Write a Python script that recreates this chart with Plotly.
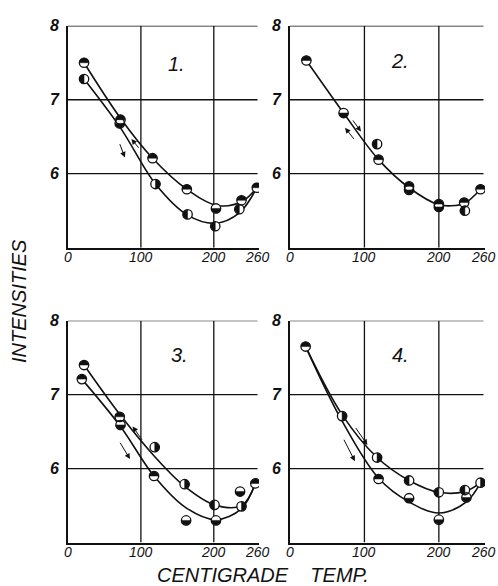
import numpy as np
import plotly.graph_objects as go

# ---------------- data ----------------
x_ticks = [0, 100, 200, 260]
x_tick_text = ["0", "100", "200", "260"]
y_ticks = [6, 7, 8]
y_tick_text = ["6", "7", "8"]
grid_x = [100, 200]
grid_y = [6, 7, 8]
panel_labels = ["1.", "2.", "3.", "4."]

# marker fill codes: T = upper half dark, B = lower half dark, L = left half dark, R = right half dark
# Panel 1
p1_x = [22, 22, 72, 71, 116, 120, 163, 164, 203, 202, 238, 235, 259]
p1_y = [7.50, 7.28, 6.73, 6.68, 6.21, 5.86, 5.79, 5.45, 5.53, 5.29, 5.64, 5.52, 5.81]
p1_m = ["T", "L", "T", "B", "T", "R", "T", "L", "B", "L", "T", "L", "T"]
p1_up_x = [22, 72, 116, 163, 205, 238, 259]
p1_up_y = [7.50, 6.75, 6.21, 5.79, 5.57, 5.62, 5.81]
p1_lo_x = [22, 72, 120, 164, 202, 235, 259]
p1_lo_y = [7.28, 6.62, 5.86, 5.44, 5.33, 5.47, 5.81]
p1_arrows = [(98.6, 6.33, 87, 6.47), (70.3, 6.42, 78, 6.22)]

# Panel 2
p2_x = [22, 72, 117, 119, 160, 160, 200, 200, 234, 235, 256]
p2_y = [7.53, 6.82, 6.40, 6.19, 5.83, 5.78, 5.59, 5.55, 5.61, 5.50, 5.79]
p2_m = ["T", "B", "L", "T", "T", "B", "T", "B", "T", "L", "T"]
p2_up_x = [22, 72, 119, 160, 200, 222, 235, 256]
p2_up_y = [7.53, 6.82, 6.19, 5.81, 5.58, 5.57, 5.60, 5.79]
p2_lo_x = []
p2_lo_y = []
p2_arrows = [(83, 6.74, 95.4, 6.57), (87.4, 6.45, 74, 6.62)]

# Panel 3
p3_x = [22, 19, 71, 72, 119, 118, 160, 162, 201, 203, 236, 238, 257]
p3_y = [7.40, 7.21, 6.70, 6.59, 6.29, 5.90, 5.79, 5.30, 5.51, 5.30, 5.69, 5.49, 5.80]
p3_m = ["T", "T", "T", "B", "R", "T", "R", "B", "L", "B", "B", "R", "T"]
p3_up_x = [22, 72, 120, 160, 201, 238, 257]
p3_up_y = [7.40, 6.72, 6.15, 5.76, 5.51, 5.50, 5.80]
p3_lo_x = [19, 72, 118, 162, 203, 238, 257]
p3_lo_y = [7.21, 6.57, 5.90, 5.47, 5.31, 5.46, 5.80]
p3_arrows = [(103, 6.37, 88.6, 6.57), (70.3, 6.37, 85, 6.13)]

# Panel 4
p4_x = [21, 70, 117, 119, 160, 160, 200, 200, 235, 237, 256]
p4_y = [7.65, 6.71, 6.15, 5.86, 5.84, 5.60, 5.68, 5.31, 5.71, 5.61, 5.81]
p4_m = ["T", "R", "R", "T", "L", "B", "L", "B", "L", "B", "R"]
p4_up_x = [21, 70, 117, 160, 200, 235, 256]
p4_up_y = [7.65, 6.73, 6.15, 5.84, 5.68, 5.69, 5.81]
p4_lo_x = [21, 68, 119, 160, 200, 237, 256]
p4_lo_y = [7.65, 6.68, 5.87, 5.55, 5.40, 5.55, 5.81]
p4_arrows = [(87, 6.57, 104, 6.32), (71.5, 6.41, 87.2, 6.10)]

panels = [
    (p1_x, p1_y, p1_m, p1_up_x, p1_up_y, p1_lo_x, p1_lo_y, p1_arrows),
    (p2_x, p2_y, p2_m, p2_up_x, p2_up_y, p2_lo_x, p2_lo_y, p2_arrows),
    (p3_x, p3_y, p3_m, p3_up_x, p3_up_y, p3_lo_x, p3_lo_y, p3_arrows),
    (p4_x, p4_y, p4_m, p4_up_x, p4_up_y, p4_lo_x, p4_lo_y, p4_arrows),
]

# ---------------- layout geometry ----------------
W, H = 498, 586
X_RANGE = [0, 262]
Y_RANGE = [5, 8]
col_px = [(68, 259), (290, 485)]
row_px = [(18, 243), (317, 542)]
label_pos = [(149, 7.48), (148, 7.53), (153, 7.53), (148, 7.53)]

FONT = "Liberation Sans"
INK = "#111111"
R_PX = 4.7  # marker radius in pixels

HALF = {"T": (0, 180), "B": (180, 360), "L": (90, 270), "R": (-90, 90)}


def half_discs(xs, ys, codes, sx, sy, r=R_PX):
    """Outline of the dark half of each marker, in data units (None-separated)."""
    X, Y = [], []
    for x, y, m in zip(xs, ys, codes):
        a0, a1 = HALF[m]
        t = np.radians(np.linspace(a0, a1, 15))
        xx = list(x + r * np.cos(t) / sx)
        yy = list(y + r * np.sin(t) / sy)
        X += xx + [xx[0], None]
        Y += yy + [yy[0], None]
    return X, Y


fig = go.Figure()
shapes = []
annotations = []
layout = {}

for i, (px, py, pm, ux, uy, lx, ly, arrows) in enumerate(panels):
    n = i + 1
    xa, ya = f"x{n}", f"y{n}"
    c = i % 2
    r = i // 2
    xd = [col_px[c][0] / W, col_px[c][1] / W]
    yd = [1 - row_px[r][1] / H, 1 - row_px[r][0] / H]
    sx = (col_px[c][1] - col_px[c][0]) / (X_RANGE[1] - X_RANGE[0])
    sy = (row_px[r][1] - row_px[r][0]) / (Y_RANGE[1] - Y_RANGE[0])

    layout[f"xaxis{n}"] = dict(
        domain=xd, anchor=ya, range=X_RANGE, showticklabels=False,
        showgrid=False, zeroline=False,
        showline=True, linecolor=INK, linewidth=2, ticks="",
        fixedrange=True,
    )
    layout[f"yaxis{n}"] = dict(
        domain=yd, anchor=xa, range=Y_RANGE, tickmode="array",
        tickvals=y_ticks, ticktext=y_tick_text, showgrid=False, zeroline=False,
        showline=True, linecolor=INK, linewidth=2, ticks="", ticklen=0,
        ticklabelstandoff=4,
        tickfont=dict(family=FONT, size=16, color=INK, style="italic", weight="bold"),
        fixedrange=True,
    )

    # x tick labels, placed just under the axis line
    for tv, tt in zip(x_ticks, x_tick_text):
        annotations.append(dict(
            x=tv, y=Y_RANGE[0], xref=xa, yref=ya, text=tt, showarrow=False,
            xanchor="center", yanchor="top", yshift=1,
            font=dict(family=FONT, size=14, color=INK, style="italic")))

    for gx in grid_x:
        shapes.append(dict(type="line", xref=xa, yref=ya, x0=gx, x1=gx, y0=5, y1=8,
                           line=dict(color=INK, width=1.3), layer="below"))
    for gy in grid_y:
        shapes.append(dict(type="line", xref=xa, yref=ya, x0=0, x1=260, y0=gy, y1=gy,
                           line=dict(color=INK, width=1.3), layer="below"))

    for cx, cy in ((ux, uy), (lx, ly)):
        if cx:
            fig.add_trace(go.Scatter(
                x=cx, y=cy, mode="lines", xaxis=xa, yaxis=ya,
                line=dict(color=INK, width=1.6, shape="spline", smoothing=1.0),
                hoverinfo="skip", showlegend=False))

    # white disc under each marker
    fig.add_trace(go.Scatter(
        x=px, y=py, mode="markers", xaxis=xa, yaxis=ya,
        marker=dict(symbol="circle", size=2 * R_PX, color="white", line=dict(width=0)),
        hoverinfo="skip", showlegend=False))
    # dark half of each marker
    hx, hy = half_discs(px, py, pm, sx, sy)
    fig.add_trace(go.Scatter(
        x=hx, y=hy, mode="lines", xaxis=xa, yaxis=ya, fill="toself",
        fillcolor=INK, line=dict(color=INK, width=0.5),
        hoverinfo="skip", showlegend=False))
    # outline of each marker
    fig.add_trace(go.Scatter(
        x=px, y=py, mode="markers", xaxis=xa, yaxis=ya,
        marker=dict(symbol="circle", size=2 * R_PX, color="rgba(0,0,0,0)",
                    line=dict(width=1.3, color=INK)),
        hoverinfo="skip", showlegend=False))

    for (tx, ty, hx_, hy_) in arrows:
        annotations.append(dict(
            x=hx_, y=hy_, ax=tx, ay=ty, xref=xa, yref=ya, axref=xa, ayref=ya,
            text="", showarrow=True, arrowhead=2, arrowsize=1.1, arrowwidth=1,
            arrowcolor=INK))

    lx0, ly0 = label_pos[i]
    annotations.append(dict(
        x=lx0, y=ly0, xref=xa, yref=ya, text=panel_labels[i], showarrow=False,
        xanchor="center", yanchor="middle",
        font=dict(family=FONT, size=20, color=INK, style="italic")))

annotations.append(dict(
    x=19 / W, y=1 - 297 / H, xref="paper", yref="paper", text="INTENSITIES",
    textangle=-90, showarrow=False, xanchor="center", yanchor="middle",
    font=dict(family=FONT, size=20, color=INK, style="italic")))
annotations.append(dict(
    x=263 / W, y=1 - 575 / H, xref="paper", yref="paper",
    text="CENTIGRADE&nbsp;&nbsp;&nbsp;&nbsp;TEMP.", showarrow=False,
    xanchor="center", yanchor="middle",
    font=dict(family=FONT, size=20, color=INK, style="italic")))

fig.update_layout(
    width=W, height=H, margin=dict(l=0, r=0, t=0, b=0),
    paper_bgcolor="white", plot_bgcolor="white",
    shapes=shapes, annotations=annotations, showlegend=False,
    **layout,
)

fig.write_html(
    "out.html",
    config={"displayModeBar": False, "responsive": False},
    post_script="document.body.style.margin='0';document.body.style.overflow='hidden';",
)
